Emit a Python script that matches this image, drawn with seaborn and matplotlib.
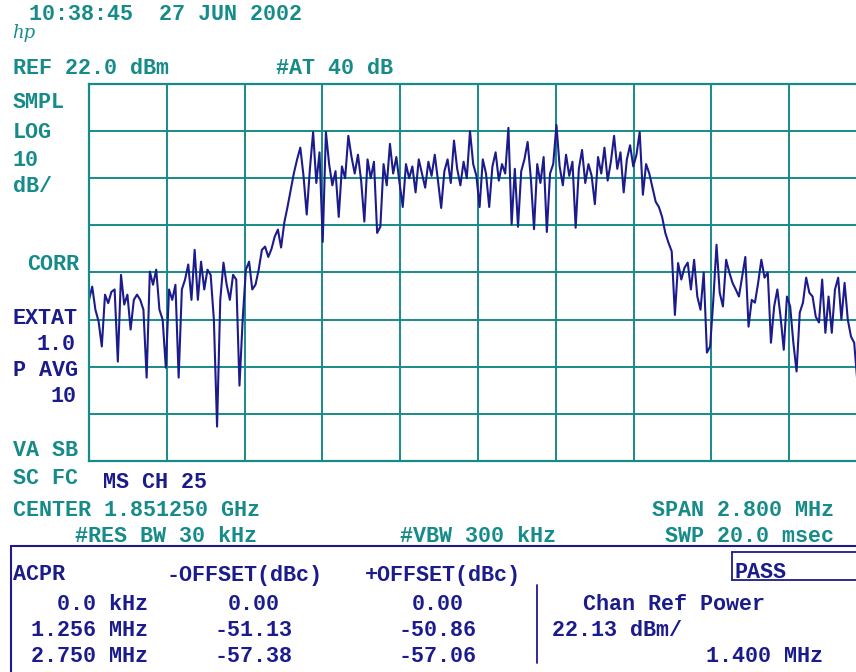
import numpy as np
import pandas as pd
import matplotlib
matplotlib.use("Agg")
import matplotlib.pyplot as plt
from matplotlib.lines import Line2D
import seaborn as sns

# ---- analyzer settings ----
REF_LEVEL_DBM = 22.0
DB_PER_DIV = 10.0
N_VDIV = 8
N_HDIV = 10
CENTER_GHZ = 1.851250
SPAN_MHZ = 2.8
SWEEP_POINTS = 244

# ---- measured trace (dBm), split by region of the sweep ----
floor_low = [
    -23.8, -21.0, -25.9, -28.4, -33.7, -22.7, -24.5, -22.1, -21.6, -36.9,
    -18.5, -24.8, -22.7, -30.1, -23.8, -22.7, -23.8, -25.9, -40.3, -17.8,
    -20.6, -17.4, -25.9, -28.0, -38.2, -21.6, -23.8, -20.6, -40.3, -21.6,
    -19.5, -16.3, -23.8, -13.2, -23.8, -15.7, -21.6, -17.4, -18.5, -28.0,
    -50.7, -23.8, -15.9, -20.6, -23.8, -18.5, -19.5, -42.0, -28.0, -17.4,
    -15.7, -21.6, -20.6, -17.4,
]
rise_edge = [-13.2, -12.5, -14.7, -13.0, -10.4, -8.9, -12.7, -7.4, -4.1, -0.5, 3.1]
channel = [
    6.0, 8.5, 2.5, -5.7, 4.0, 11.8, 1.0, 7.5, -11.5, 11.8,
    5.0, 0.5, 3.5, -6.2, 4.5, 2.0, 11.0, 6.5, 3.0, 7.0,
    1.5, -7.2, 6.0, 2.0, 5.5, -9.6, -8.3, 5.0, 0.5, 9.3,
    3.0, 6.5, 1.0, -4.1, 5.0, 2.0, 4.5, -1.0, 6.0, 3.0,
    0.0, 5.5, 2.5, 7.0, 1.5, -4.3, 3.5, 6.0, 1.0, 10.0,
    4.0, 0.5, 5.5, 2.0, 12.0, 5.0, 2.5, -4.1, 6.0, 3.0,
    -4.1, 4.5, 7.5, 1.5, 5.0, 3.0, 12.7, -7.8, 4.0, -8.3,
    3.5, 6.0, 9.7, 2.0, -8.8, 5.0, 1.0, 6.5, -9.4, 3.0,
    5.0, 13.3, 4.5, 0.5, 7.0, 2.5, 5.5, -8.5, 4.0, 8.0,
    1.0, 5.0, 2.5, -3.5, 6.5, 3.0, 8.5, 1.5, 5.5, 11.0,
    4.0, 7.5, -1.0, 6.0, 9.0, 4.5, 7.0, 11.8, -1.5, 5.0,
    3.0, 0.0, -3.0,
]
fall_edge = [-4.1, -6.2, -9.6, -11.7, -13.5, -27.0, -16.0, -19.5, -17.0]
floor_high = [
    -15.9, -21.6, -15.3, -23.1, -25.9, -18.0, -35.0, -33.7, -23.8, -12.1,
    -22.3, -25.2, -15.3, -18.0, -20.2, -21.6, -23.1, -18.9, -14.7, -29.5,
    -23.8, -24.4, -20.2, -15.3, -19.1, -18.0, -32.9, -25.2, -21.6, -27.4,
    -34.4, -23.1, -25.2, -32.9, -39.0, -26.5, -24.4, -19.1, -22.3, -23.1,
    -27.4, -28.6, -19.5, -30.8, -23.1, -30.8, -21.6, -19.1, -28.0, -20.2,
    -28.0, -31.6, -32.9, -41.3,
]

# ---- ACPR table ----
acpr_offsets = ["0.0 kHz", "1.256 MHz", "2.750 MHz"]
minus_offset_dbc = [0.00, -51.13, -57.38]
plus_offset_dbc = [0.00, -50.86, -57.06]
chan_ref_power_dbm = 22.13
chan_bw_mhz = 1.400

# ---- build the sweep ----
trace = np.array(floor_low + rise_edge + channel + fall_edge + floor_high)
step = SPAN_MHZ / (SWEEP_POINTS - 1)
offset_mhz = -SPAN_MHZ / 2 + step * np.arange(len(trace))
df = pd.DataFrame({"offset": offset_mhz, "level": trace})

# ---- style ----
TEAL = "#178a8a"
NAVY = "#1b1b8c"
W, H = 856, 672
FS = 15.7

sns.set_theme(style="white")
plt.rcParams["font.family"] = ["Liberation Mono", "DejaVu Sans Mono"]

fig = plt.figure(figsize=(W / 100, H / 100), dpi=100)
fig.patch.set_facecolor("white")

# graticule: left edge at px 89, top 84, bottom 461, 77.8 px per division
ax = fig.add_axes([89 / W, 1 - 461 / H, 778 / W, 377 / H])
ax.set_facecolor("white")
bottom = REF_LEVEL_DBM - N_VDIV * DB_PER_DIV
ax.set_xlim(-SPAN_MHZ / 2, SPAN_MHZ / 2)
ax.set_ylim(bottom, REF_LEVEL_DBM)
ax.set_xticks(np.linspace(-SPAN_MHZ / 2, SPAN_MHZ / 2, N_HDIV + 1))
ax.set_yticks(np.linspace(bottom, REF_LEVEL_DBM, N_VDIV + 1))
ax.grid(True, color=TEAL, linewidth=1.4)
ax.tick_params(length=0, labelbottom=False, labelleft=False)
for sp in ax.spines.values():
    sp.set_color(TEAL)
    sp.set_linewidth(1.6)

sns.lineplot(data=df, x="offset", y="level", ax=ax, color=NAVY,
             linewidth=1.5, estimator=None, sort=False)
ax.set_xlabel("")
ax.set_ylabel("")


def put(x, y, s, color, ha="left", size=FS, **kw):
    fig.text(x / W, 1 - y / H, s, color=color, ha=ha, va="center",
             fontsize=size, fontweight="bold", **kw)


def hline(x0, x1, y, color=NAVY, lw=1.5):
    fig.add_artist(Line2D([x0 / W, x1 / W], [1 - y / H, 1 - y / H],
                          color=color, linewidth=lw, transform=fig.transFigure))


def vline(x, y0, y1, color=NAVY, lw=1.5):
    fig.add_artist(Line2D([x / W, x / W], [1 - y0 / H, 1 - y1 / H],
                          color=color, linewidth=lw, transform=fig.transFigure))


# header
put(29, 14, "10:38:45  27 JUN 2002", TEAL)
fig.text(12 / W, 1 - 33 / H, "hp", color=TEAL, ha="left", va="center",
         fontsize=13, style="italic", family="DejaVu Serif")
put(13, 68, f"REF {REF_LEVEL_DBM:.1f} dBm", TEAL)
put(276, 68, "#AT 40 dB", TEAL)

# left annotations
put(13, 102, "SMPL", TEAL)
put(13, 133, "LOG", TEAL)
put(13, 160, f"{DB_PER_DIV:.0f}", TEAL)
put(13, 187, "dB/", TEAL)
put(27, 265, "CORR", TEAL)
put(13, 318, "EXTAT", NAVY)
put(76, 345, "1.0", NAVY, ha="right")
put(13, 370, "P AVG", NAVY)
put(76, 397, "10", NAVY, ha="right")
put(13, 451, "VA SB", TEAL)
put(13, 478, "SC FC", TEAL)
put(103, 483, "MS CH 25", NAVY)

# footer settings
put(13, 510, f"CENTER {CENTER_GHZ:.6f} GHz", TEAL)
put(834, 510, f"SPAN {SPAN_MHZ:.3f} MHz", TEAL, ha="right")
put(75, 537, "#RES BW 30 kHz", TEAL)
put(400, 537, "#VBW 300 kHz", TEAL)
put(665, 537, "SWP 20.0 msec", TEAL)

# ACPR results box
hline(11, W + 5, 546)
vline(11, 546, H + 5)
hline(732, W + 5, 552, lw=1.3)
vline(732, 552, 580, lw=1.3)
hline(732, W + 5, 580, lw=1.3)
vline(537, 585, 663, lw=1.3)

put(13, 575, "ACPR", NAVY)
put(167, 575, "-OFFSET(dBc)", NAVY)
put(365, 575, "+OFFSET(dBc)", NAVY)
put(735, 573, "PASS", NAVY)

row_y = [605, 631, 657]
for y, off, m, p in zip(row_y, acpr_offsets, minus_offset_dbc, plus_offset_dbc):
    put(148, y, off, NAVY, ha="right")
    put(254, y, f"{m:.2f}", NAVY, ha="center")
    put(438, y, f"{p:.2f}", NAVY, ha="center")

put(583, 605, "Chan Ref Power", NAVY)
put(552, 631, f"{chan_ref_power_dbm:.2f} dBm/", NAVY)
put(823, 657, f"{chan_bw_mhz:.3f} MHz", NAVY, ha="right")

fig.savefig("out.png", dpi=100, facecolor="white")
